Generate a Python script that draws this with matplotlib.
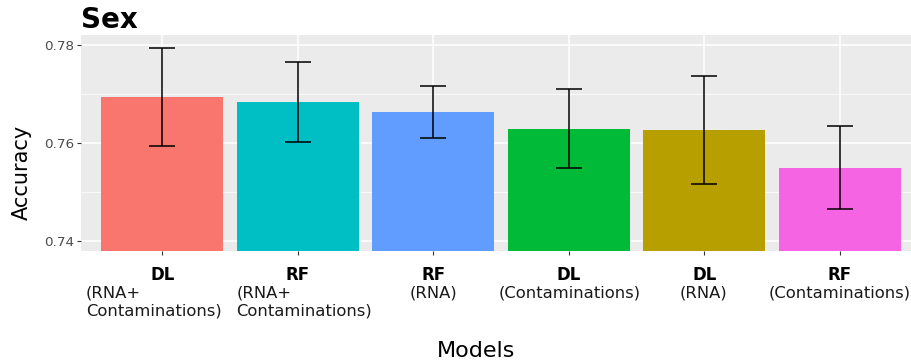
import matplotlib
matplotlib.use("Agg")
from matplotlib import pyplot as plt
from matplotlib.ticker import MultipleLocator
import numpy as np

# accuracy par modele (moyenne +/- ecart)
methodes = ["DL", "RF", "RF", "DL", "DL", "RF"]
donnees = ["(RNA+\nContaminations)", "(RNA+\nContaminations)", "(RNA)",
           "(Contaminations)", "(RNA)", "(Contaminations)"]
accuracy = [0.7694, 0.7684, 0.7663, 0.7629, 0.7627, 0.7549]
erreur = [0.0100, 0.0082, 0.0053, 0.0081, 0.0110, 0.0085]
couleurs = ["#F8766D", "#00BFC4", "#619CFF", "#00BA38", "#B79F00", "#F564E3"]

# decalage horizontal (points) du texte sous les noms
decalage = [-6.3, 4.5, 0.5, 0.5, -0.5, 0]

W, H = 912, 362
fig = plt.figure(figsize=(W/100, H/100), dpi=100)
ax = fig.add_axes([81/W, (H-251)/H, 840/W, 216/H])
ax.set_facecolor("#EBEBEB")
for s in ax.spines.values():
    s.set_visible(False)

x = np.arange(len(accuracy))
ax.bar(x, accuracy, width=0.9, color=couleurs, zorder=2)
ax.errorbar(x, accuracy, yerr=erreur, fmt="none", ecolor="black",
            elinewidth=1.1, capsize=9.7, capthick=1.1, zorder=3)

ax.set_xlim(-0.6, 5.6)
ax.set_ylim(0.7379, 0.7821)
ax.set_yticks([0.74, 0.76, 0.78])
ax.set_yticklabels(["0.74", "0.76", "0.78"])
ax.yaxis.set_minor_locator(MultipleLocator(0.01))
ax.grid(True, which="major", color="white", linewidth=1.1, zorder=0)
ax.grid(True, which="minor", axis="y", color="white", linewidth=0.55, zorder=0)
ax.set_axisbelow(True)
ax.tick_params(axis="y", which="major", length=3, width=0.8, color="#333333",
               labelsize=9.7, labelcolor="#4D4D4D", pad=2)
ax.tick_params(axis="y", which="minor", length=0)
ax.set_xticks(x)
ax.set_xticklabels([])
ax.tick_params(axis="x", length=3, width=0.8, color="#333333")

# etiquettes de l'axe x : methode en gras puis les donnees
px = 72/100
for i in range(len(x)):
    ax.annotate(methodes[i], xy=(x[i], 0), xycoords=("data", "axes fraction"),
                xytext=(0, -15*px), textcoords="offset points",
                ha="center", va="top", fontsize=12, fontweight="bold")
    ax.annotate(donnees[i], xy=(x[i], 0), xycoords=("data", "axes fraction"),
                xytext=(decalage[i], -34*px), textcoords="offset points",
                ha="center", va="top", fontsize=11.8, color="#1A1A1A",
                multialignment="left", linespacing=1.25)

fig.text(81/W, 1-28.3/H, "Sex", fontsize=20, fontweight="bold", va="baseline")
fig.text(22/W, 1-172/H, "Accuracy", fontsize=15, rotation=90,
         ha="center", va="center")
fig.text(476/W, 1-357/H, "Models", fontsize=16, ha="center", va="baseline")

fig.savefig("out.png", dpi=100)
